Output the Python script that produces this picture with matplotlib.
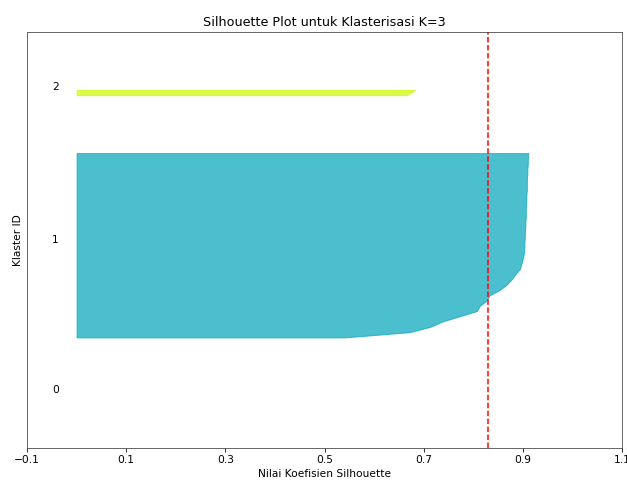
import matplotlib
matplotlib.use("Agg")
import matplotlib.pyplot as plt
import matplotlib.cm as cm
import numpy as np

# silhouette values per cluster, sorted ascending
cluster_ids = [0, 1, 2]
sil_cluster0 = [0.0]
sil_cluster1 = [0.541, 0.672, 0.713, 0.737, 0.772, 0.807, 0.813, 0.827,
                0.833, 0.853, 0.867, 0.877, 0.885, 0.894, 0.897, 0.900,
                0.902, 0.903, 0.903, 0.904, 0.904, 0.905, 0.905, 0.906,
                0.906, 0.906, 0.907, 0.907, 0.908, 0.908, 0.908, 0.909,
                0.909, 0.910, 0.910, 0.911]
sil_cluster2 = [0.666, 0.683]
x_ticks = [-0.1, 0.1, 0.3, 0.5, 0.7, 0.9, 1.1]

clusters = [sil_cluster0, sil_cluster1, sil_cluster2]
n_clusters = len(clusters)
n_samples = sum(len(c) for c in clusters)
avg_score = np.mean(np.concatenate(clusters))

plt.rcParams['font.size'] = 10.6
plt.rcParams['axes.titlesize'] = 12.7

fig = plt.figure(figsize=(627 / 72, 480 / 72), dpi=72)
ax = fig.add_axes([0.0431, 0.0667, 0.949, 0.8667])

y_lower = 10
for i, vals in zip(cluster_ids, clusters):
    vals = np.sort(np.array(vals))
    size_i = len(vals)
    y_upper = y_lower + size_i
    color = cm.nipy_spectral(float(i) / n_clusters)
    ax.fill_betweenx(np.arange(y_lower, y_upper), 0, vals,
                     facecolor=color, edgecolor=color, alpha=0.7)
    ax.text(-0.05, y_lower + 0.5 * size_i, str(i))
    y_lower = y_upper + 10

ax.axvline(x=avg_score, color="red", linestyle="--")

ax.set_xlim(-0.1, 1.1)
ax.set_ylim(0, n_samples + (n_clusters + 1) * 10)
ax.set_xticks(x_ticks)
ax.set_yticks([])
for sp in ax.spines.values():
    sp.set_color('#444444')
ax.set_title("Silhouette Plot untuk Klasterisasi K=3")
ax.set_xlabel("Nilai Koefisien Silhouette")
ax.set_ylabel("Klaster ID")

fig.savefig("out.png", dpi=72)
